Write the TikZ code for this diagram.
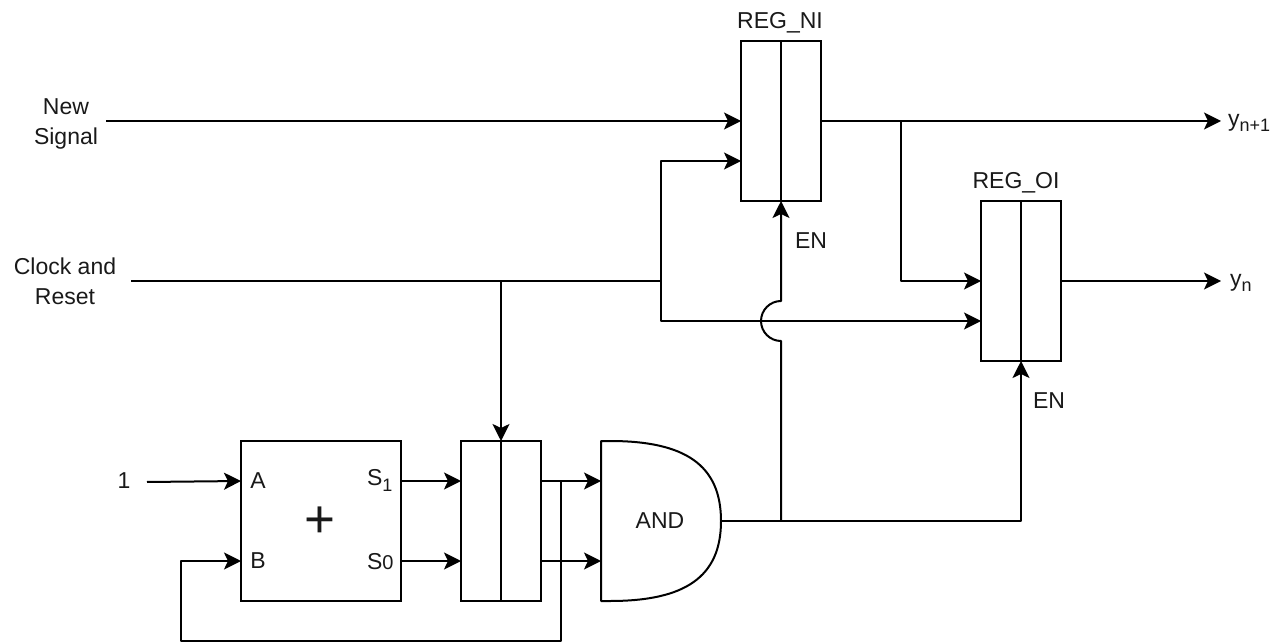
\documentclass[tikz,border=0pt]{standalone}
\usepackage{fontspec}
\setmainfont{Liberation Sans}
\usetikzlibrary{arrows.meta}
\newcommand{\subtext}[2]{\raisebox{#1}{\fontsize{18}{18}\selectfont #2}}
\tikzset{
  wire/.style={line width=2pt,black,line join=round},
  arrowwire/.style={wire,-{Stealth[length=17pt,width=17pt,inset=4pt]}},
  block/.style={draw=black,line width=2pt,fill=white,inner sep=0pt,outer sep=0pt,minimum width=#1},
  lab/.style={inner sep=0pt,outer sep=0pt,align=center,font=\fontsize{23}{30}\selectfont,text=black!90},
}
\begin{document}
\begin{tikzpicture}[x=1pt,y=-1pt]
\useasboundingbox (0,0) rectangle (1282,644);
% blocks
\node[block=160pt,minimum height=160pt] (adder) at (321,521) {};
\node[block=80pt,minimum height=160pt] (regm) at (501,521) {};
\node[block=80pt,minimum height=160pt] (regn) at (781,121) {};
\node[block=80pt,minimum height=160pt] (rego) at (1021,281) {};
\draw[wire] (regm.north) -- (regm.south);
\draw[wire] (regn.north) -- (regn.south);
\draw[wire] (rego.north) -- (rego.south);
% AND gate
\draw[wire] (601,441) -- (610,441) .. controls (685,441) and (721,465) .. (721,521) .. controls (721,577) and (685,601) .. (610,601) -- (601,601) -- cycle;
\coordinate (andout) at (721,521);
\coordinate (anda) at (601,481);
\coordinate (andb) at (601,561);
% free ends and junctions
\coordinate (newin) at (106,121);
\coordinate (clkin) at (131,281);
\coordinate (onein) at (147,482);
\coordinate (ynp) at (1221,121);
\coordinate (yn) at (1221,281);
\coordinate (clkj) at (501,281);
\coordinate (clkk) at (661,281);
\coordinate (nout) at (821,121);
\coordinate (nj) at (901,121);
\coordinate (fbj) at (561,481);
\coordinate (enj) at (781,521);
% connectors
\draw[arrowwire] (newin) -- (741,121);
\draw[arrowwire] (nout) -- (ynp);
\draw[arrowwire] (nj) -- (901,281) -- (981,281);
\draw[arrowwire] (1061,281) -- (yn);
\draw[wire] (clkin) -- (clkk);
\draw[arrowwire] (clkj) -- (regm.north);
\draw[arrowwire] (clkk) -- (661,161) -- (741,161);
\draw[arrowwire] (clkk) -- (661,321) -- (981,321);
\draw[arrowwire] (andout) -- (1021,521) -- (rego.south);
\draw[arrowwire] (enj) -- (781,341) .. controls (770,341) and (761,332) .. (761,321) .. controls (761,310) and (770,301) .. (781,301) -- (regn.south);
\draw[arrowwire] (541,481) -- (anda);
\draw[arrowwire] (541,561) -- (andb);
\draw[arrowwire] (fbj) -- (561,641) -- (181,641) -- (181,561) -- (241,561);
\draw[arrowwire] (onein) -- (241,481);
\draw[arrowwire] (401,481) -- (461,481);
\draw[arrowwire] (401,561) -- (461,561);
% labels
\node[lab] (lnew) at (66,124) {New\\Signal};
\node[lab] (lclk) at (65,281) {Clock and\\Reset};
\node[lab] (lone) at (124,481) {1};
\node[lab] (lregn) at (780,22.5) {REG\_NI};
\node[lab] (lrego) at (1016,182.5) {REG\_OI};
\node[lab] (len1) at (811,241) {EN};
\node[lab] (len2) at (1049,401) {EN};
\node[lab,anchor=base west] (lynp) at (1228,127) {y\subtext{-5pt}{n+1}};
\node[lab,anchor=base west] (lyn) at (1230,287) {y\subtext{-5pt}{n}};
\node[lab] (la) at (258,481) {A};
\node[lab] (lb) at (258,561) {B};
\node[lab,anchor=base west] (ls1) at (367,485) {S\subtext{-6pt}{1}};
\node[lab,anchor=base west] (ls0) at (367,569) {S{\fontsize{20}{20}\selectfont 0}};
\node[lab,font=\fontsize{53}{53}\selectfont] (lplus) at (320,522) {+};
\node[lab] (land) at (660,521) {AND};
\end{tikzpicture}
\end{document}
